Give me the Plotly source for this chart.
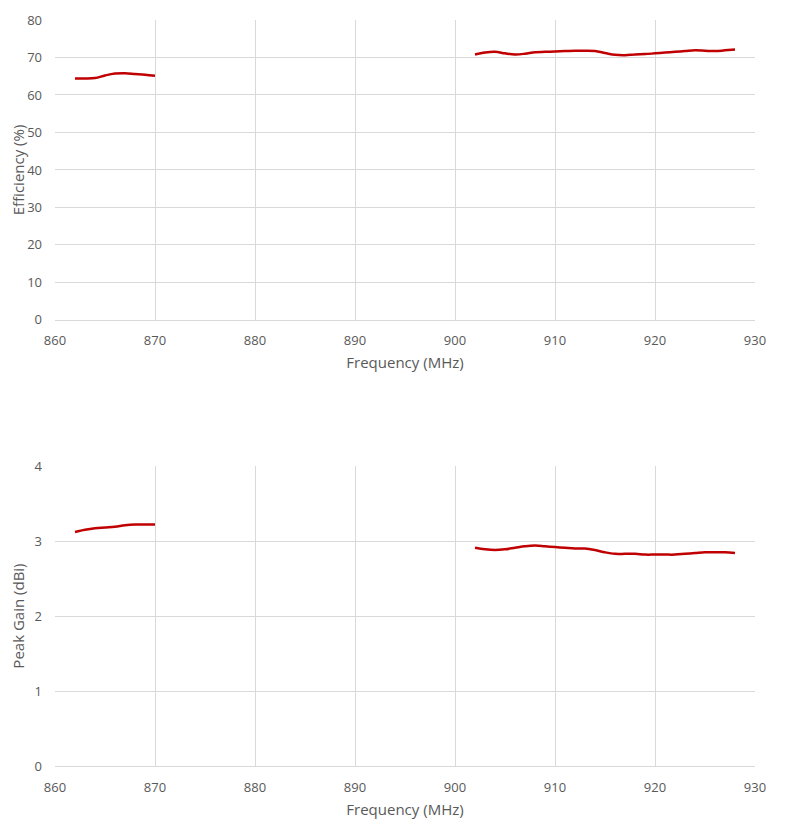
import plotly.graph_objects as go
from plotly.subplots import make_subplots

# frequency bands (MHz)
freq_low = [862, 863, 864, 865, 866, 867, 868, 869, 870]
freq_high = list(range(902, 929))

# efficiency (%)
eff_low = [64.4, 64.4, 64.5, 65.2, 65.7, 65.8, 65.6, 65.4, 65.1]
eff_high = [70.8, 71.3, 71.5, 71.1, 70.8, 71.0, 71.4, 71.5, 71.6, 71.7, 71.8, 71.8, 71.7,
            71.2, 70.7, 70.6, 70.8, 70.9, 71.1, 71.3, 71.5, 71.7, 71.9, 71.8, 71.7, 71.9, 72.1]

# peak gain (dBi)
gain_low = [3.12, 3.15, 3.17, 3.18, 3.19, 3.21, 3.22, 3.22, 3.22]
gain_high = [2.91, 2.89, 2.88, 2.89, 2.91, 2.93, 2.94, 2.93, 2.92, 2.91, 2.90, 2.90, 2.88,
             2.85, 2.83, 2.83, 2.83, 2.82, 2.82, 2.82, 2.82, 2.83, 2.84, 2.85, 2.85, 2.85, 2.84]

red = "#c00000"
grey_txt = "#595959"
grid = "#d9d9d9"

fig = make_subplots(rows=2, cols=1, vertical_spacing=0.196)

line = dict(color=red, width=2.5, shape="spline")
fig.add_trace(go.Scatter(x=freq_low, y=eff_low, mode="lines", line=line), row=1, col=1)
fig.add_trace(go.Scatter(x=freq_high, y=eff_high, mode="lines", line=line), row=1, col=1)
fig.add_trace(go.Scatter(x=freq_low, y=gain_low, mode="lines", line=line), row=2, col=1)
fig.add_trace(go.Scatter(x=freq_high, y=gain_high, mode="lines", line=line), row=2, col=1)

fig.update_xaxes(range=[860, 930], dtick=10, showgrid=True, gridcolor=grid,
                 showline=True, linecolor=grid, zeroline=False, ticks="",
                 ticklabelstandoff=9, automargin=False,
                 tickfont=dict(size=13, color=grey_txt),
                 title=dict(text="Frequency (MHz)", font=dict(size=15, color=grey_txt), standoff=9))

fig.update_yaxes(range=[0, 80], dtick=10, row=1, col=1,
                 title=dict(text="Efficiency (%)", font=dict(size=15, color=grey_txt)))
fig.update_yaxes(range=[0, 4], dtick=1, row=2, col=1,
                 title=dict(text="Peak Gain (dBi)", font=dict(size=15, color=grey_txt)))
fig.update_yaxes(showgrid=True, gridcolor=grid, zeroline=False, showline=False, ticks="",
                 ticklabelstandoff=12, automargin=False,
                 tickfont=dict(size=13, color=grey_txt))

# page body adds 8px offset, so margins are trimmed to compensate
fig.update_layout(
    width=800, height=833,
    margin=dict(l=47, r=53, t=12, b=75),
    plot_bgcolor="white", paper_bgcolor="white",
    showlegend=False,
    font=dict(family="Open Sans", color=grey_txt),
)

fig.write_html("out.html")
